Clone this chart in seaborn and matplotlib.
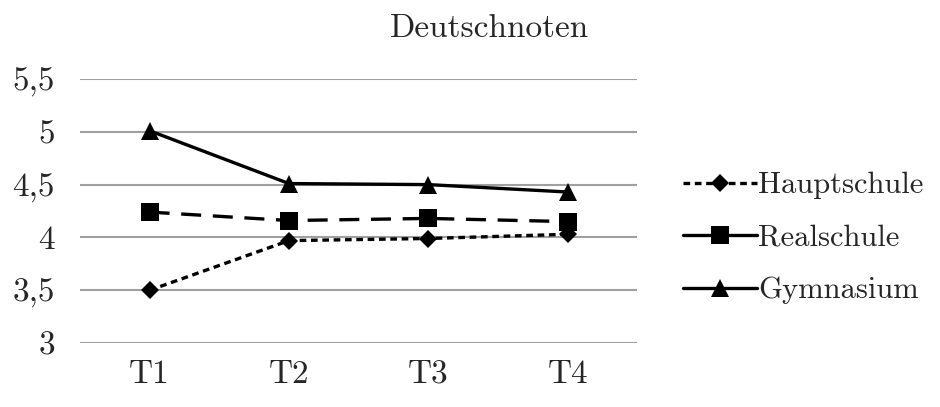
import numpy as np
import pandas as pd
import seaborn as sns
import matplotlib.pyplot as plt
from matplotlib.lines import Line2D

sns.set_style("white")
plt.rcParams["font.family"] = ["cmr10", "DejaVu Serif"]
plt.rcParams["axes.formatter.use_mathtext"] = True

termine = ["T1", "T2", "T3", "T4"]
hauptschule = [3.50, 3.97, 3.99, 4.03]
realschule = [4.24, 4.16, 4.18, 4.15]
gymnasium = [5.01, 4.51, 4.50, 4.43]
y_ticks = [3, 3.5, 4, 4.5, 5, 5.5]
y_labels = ["3", "3,5", "4", "4,5", "5", "5,5"]

df = pd.DataFrame({"Termin": termine, "Hauptschule": hauptschule,
                   "Realschule": realschule, "Gymnasium": gymnasium})
df["x"] = np.arange(len(termine))

fs = 24
lw = 2.4
haupt_style = dict(color="black", lw=lw, linestyle=(0, (2.0, 1.4)), marker="D", markersize=9, markeredgewidth=0)
real_style = dict(color="black", lw=lw, linestyle=(0, (6, 3.5)), marker="s", markersize=12.5, markeredgewidth=0)
gym_style = dict(color="black", lw=lw, linestyle="-", marker="^", markersize=13.5, markeredgewidth=0)

fig = plt.figure(figsize=(9.4, 4.07), dpi=100)
ax = fig.add_axes([0.085, 0.157, 0.593, 0.649])

for y in y_ticks:
    ax.axhline(y, color="#a0a0a0", lw=1.5, zorder=0)

sns.lineplot(data=df, x="x", y="Hauptschule", ax=ax, **haupt_style)
sns.lineplot(data=df, x="x", y="Realschule", ax=ax, **real_style)
sns.lineplot(data=df, x="x", y="Gymnasium", ax=ax, **gym_style)

ax.set_xlim(-0.5, 3.5)
ax.set_ylim(3, 5.5)
ax.set_xticks(df["x"])
ax.set_xticklabels(termine, fontsize=fs)
ax.set_yticks(y_ticks)
ax.set_yticklabels(y_labels, fontsize=fs)
ax.set_xlabel("")
ax.set_ylabel("")
ax.tick_params(axis="x", length=0, pad=12)
ax.tick_params(axis="y", length=0, pad=18)
for s in ax.spines.values():
    s.set_visible(False)

real_legend = dict(real_style, linestyle="-")
handles = [Line2D([], [], **haupt_style), Line2D([], [], **real_legend), Line2D([], [], **gym_style)]
fig.legend(handles, ["Hauptschule", "Realschule", "Gymnasium"], loc="center left",
           bbox_to_anchor=(0.727, 0.415), frameon=False, fontsize=22,
           handlelength=2.4, handletextpad=0.05, labelspacing=0.82,
           borderpad=0, borderaxespad=0)

fig.text(0.521, 0.93, "Deutschnoten", ha="center", va="center", fontsize=fs)

fig.savefig("out.png", dpi=100)
